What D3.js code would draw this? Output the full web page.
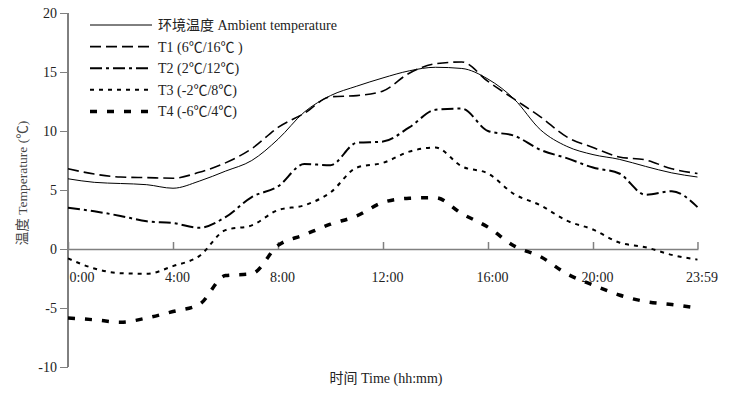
<!DOCTYPE html>
<html>
<head>
<meta charset="utf-8">
<script src="https://cdn.jsdelivr.net/npm/d3@7"></script>
<style>
  body { margin: 0; background: #fff; }
  svg text { font-family: "Liberation Serif", "Times New Roman", "Noto Sans CJK SC", serif; }
</style>
</head>
<body>
<div id="chart"></div>
<script>
var width = 729,
  height = 397;

// hours of the day (23.98 = 23:59)
var hours = [0, 1, 2, 3, 4, 5, 6, 7, 8, 9, 10, 11, 12, 13, 14, 15, 16, 17, 18, 19, 20, 21, 22, 23, 23.98];

var ambient = [5.95, 5.65, 5.55, 5.45, 5.15, 5.75, 6.6, 7.5, 9.3, 11.6, 13.0, 13.8, 14.5, 15.1, 15.4, 15.3, 14.4, 12.7, 10.1, 8.7, 8.0, 7.6, 7.0, 6.45, 6.1];
var t1 = [6.8, 6.35, 6.1, 6.05, 6.0, 6.5, 7.3, 8.5, 10.3, 11.5, 12.9, 13.0, 13.4, 14.9, 15.7, 15.85, 14.2, 12.7, 11.2, 9.5, 8.6, 7.8, 7.55, 6.8, 6.4];
var t2 = [3.5, 3.2, 2.8, 2.35, 2.2, 1.8, 2.7, 4.4, 5.3, 7.2, 7.1, 9.0, 9.1, 10.3, 11.8, 11.9, 10.0, 9.6, 8.4, 7.7, 6.9, 6.4, 4.6, 4.9, 3.55];
var t3 = [-0.8, -1.65, -2.05, -2.1, -1.45, -0.6, 1.6, 2.0, 3.3, 3.7, 4.8, 6.9, 7.3, 8.25, 8.6, 7.0, 6.4, 4.65, 3.7, 2.4, 1.65, 0.55, 0.15, -0.5, -0.9];
var t4 = [-5.85, -6.0, -6.2, -5.85, -5.3, -4.7, -2.25, -2.1, 0.3, 1.2, 2.1, 2.8, 3.95, 4.3, 4.35, 3.0, 1.85, 0.25, -0.65, -2.1, -3.05, -3.9, -4.45, -4.7, -5.0];

var seriesNames = ["环境温度 Ambient temperature", "T1 (6℃/16℃ )", "T2 (2℃/12℃)", "T3 (-2℃/8℃)", "T4 (-6℃/4℃)"];
var seriesValues = [ambient, t1, t2, t3, t4];

var xTicks = [0, 4, 8, 12, 16, 20, 23.98];
var xTickLabels = ["0:00", "4:00", "8:00", "12:00", "16:00", "20:00", "23:59"];
var yTicks = [-10, -5, 0, 5, 10, 15, 20];
var yTickLabels = ["-10", "-5", "0", "5", "10", "15", "20"];

// line looks per series
var styles = [
  {w: 1, dash: null},
  {w: 1.6, dash: "11,5"},
  {w: 2, dash: "12,4,3,4"},
  {w: 2, dash: "4,5"},
  {w: 3.5, dash: "7,10"}
];

var x = d3.scaleLinear().domain([0, 24]).range([68, 698]);
var y = d3.scaleLinear().domain([-10, 20]).range([367, 13]);

var svg = d3.select("#chart").append("svg")
    .attr("width", width)
    .attr("height", height);

// y axis
var yAxis = svg.append("g")
    .attr("transform", "translate(68,0)")
    .call(d3.axisLeft(y).tickValues(yTicks)
      .tickFormat(function(d, i) { return yTickLabels[i]; })
      .tickSize(8).tickPadding(3));
yAxis.select(".domain").attr("stroke", "#000").attr("d", "M0," + y(20) + "V" + y(-10));
yAxis.selectAll(".tick line").attr("stroke", "#808080");
yAxis.selectAll("text").style("font-size", "14px").attr("fill", "#222");

// x axis sits on zero
var xAxis = svg.append("g")
    .attr("transform", "translate(0," + y(0) + ")")
    .call(d3.axisBottom(x).tickValues(xTicks)
      .tickFormat(function(d, i) { return xTickLabels[i]; })
      .tickSizeInner(-7).tickSizeOuter(0).tickPadding(23));
xAxis.select(".domain").attr("stroke", "#808080").attr("stroke-width", 1.5);
xAxis.selectAll(".tick line").attr("stroke", "#808080").attr("stroke-width", 1.5);
xAxis.selectAll("text")
    .style("font-size", "14px")
    .attr("fill", "#222")
    .attr("dx", function(d, i) { return i == 0 ? 1 : 4; })
    .attr("text-anchor", function(d, i) { return i == 0 ? "start" : "middle"; });

// axis titles
svg.append("text")
    .attr("transform", "translate(27,183) rotate(-90)")
    .attr("text-anchor", "middle")
    .style("font-size", "13.5px")
    .attr("fill", "#444")
    .text("温度 Temperature (℃)");

svg.append("text")
    .attr("x", 386)
    .attr("y", 383)
    .attr("text-anchor", "middle")
    .style("font-size", "14px")
    .attr("fill", "#222")
    .text("时间 Time (hh:mm)");

// lines
var line = d3.line()
    .x(function(d) { return x(d[0]); })
    .y(function(d) { return y(d[1]); })
    .curve(d3.curveMonotoneX);

svg.selectAll(".series")
    .data(seriesValues)
  .enter().append("path")
    .attr("class", "series")
    .attr("fill", "none")
    .attr("stroke", "#000")
    .attr("stroke-width", function(d, i) { return styles[i].w; })
    .attr("stroke-dasharray", function(d, i) { return styles[i].dash; })
    .attr("d", function(vals) { return line(hours.map(function(h, j) { return [h, vals[j]]; })); });

// legend
var legend = svg.selectAll(".legend")
    .data(seriesNames)
  .enter().append("g")
    .attr("class", "legend")
    .attr("transform", function(d, i) { return "translate(90," + (25 + i * 21.6) + ")"; });

legend.append("line")
    .attr("x1", 0).attr("x2", 62)
    .attr("stroke", "#000")
    .attr("stroke-width", function(d, i) { return styles[i].w; })
    .attr("stroke-dasharray", function(d, i) { return styles[i].dash; });

legend.append("text")
    .attr("x", 68)
    .attr("dy", "0.35em")
    .style("font-size", "14px")
    .attr("fill", "#222")
    .text(function(d) { return d; });
</script>
</body>
</html>
